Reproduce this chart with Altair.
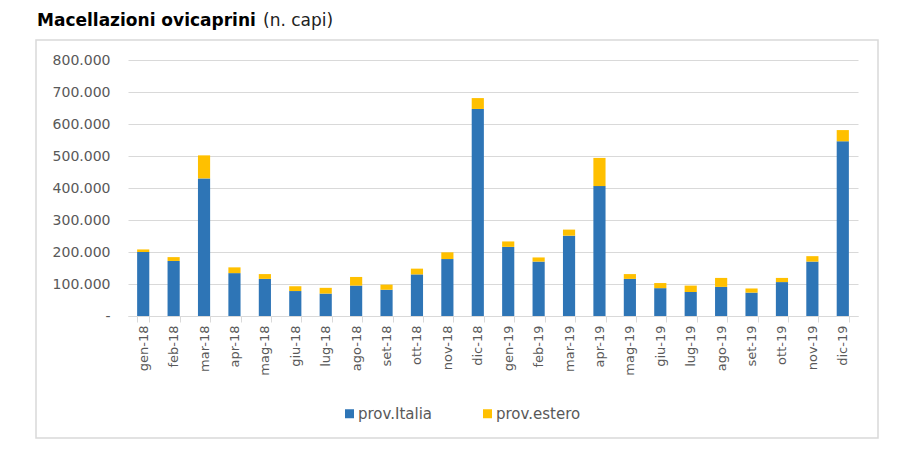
import altair as alt
import pandas as pd

months = ["gen-18", "feb-18", "mar-18", "apr-18", "mag-18", "giu-18", "lug-18", "ago-18",
          "set-18", "ott-18", "nov-18", "dic-18", "gen-19", "feb-19", "mar-19", "apr-19",
          "mag-19", "giu-19", "lug-19", "ago-19", "set-19", "ott-19", "nov-19", "dic-19"]
italia = [200000, 172000, 430000, 134000, 116000, 78000, 70000, 95000, 82000, 130000, 178000, 647000,
          216000, 170000, 251000, 406000, 116000, 87000, 75000, 91000, 73000, 106000, 170000, 546000]
estero = [8000, 12000, 72000, 18000, 15000, 15000, 18000, 27000, 16000, 18000, 21000, 34000,
          17000, 13000, 19000, 88000, 15000, 16000, 20000, 28000, 13000, 13000, 17000, 35000]
series = ["prov.Italia", "prov.estero"]
y_ticks = [0, 100000, 200000, 300000, 400000, 500000, 600000, 700000, 800000]

rows = []
for m, a, b in zip(months, italia, estero):
    rows.append({"mese": m, "serie": series[0], "valore": a, "ord": 0})
    rows.append({"mese": m, "serie": series[1], "valore": b, "ord": 1})
df = pd.DataFrame(rows)

FONT = "DejaVu Sans"
GRAY = "#595959"
LINE = "#d9d9d9"

bars = alt.Chart(df).mark_bar().encode(
    x=alt.X("mese:N", sort=months, title=None,
            scale=alt.Scale(paddingInner=0.6, paddingOuter=0.3),
            axis=alt.Axis(labelAngle=270, labelFontSize=13, labelColor=GRAY, labelFont=FONT,
                          tickBand="extent", tickSize=6, tickColor=LINE, domainColor=LINE,
                          labelPadding=3, grid=False)),
    y=alt.Y("valore:Q", title=None,
            scale=alt.Scale(domain=[0, 800000], nice=False),
            axis=alt.Axis(values=y_ticks, ticks=False, domain=False, gridColor=LINE,
                          labelFontSize=14, labelColor=GRAY, labelFont=FONT, labelPadding=18,
                          labelExpr="datum.value == 0 ? '-' : replace(format(datum.value, ','), ',', '.')")),
    color=alt.Color("serie:N", scale=alt.Scale(domain=series, range=["#2E75B6", "#FFC000"]),
                    legend=alt.Legend(title=None, orient="none", legendX=214, legendY=346,
                                      direction="horizontal", symbolType="square", symbolSize=81,
                                      labelFontSize=15, labelColor=GRAY, labelFont=FONT,
                                      columnPadding=47, labelOffset=1, padding=0)),
    order=alt.Order("ord:Q"),
)

box = alt.Chart(pd.DataFrame({"k": [1]})).mark_rect(fillOpacity=0, stroke=LINE, strokeWidth=1.5).encode(
    x=alt.value(-92), x2=alt.value(750), y=alt.value(-20), y2=alt.value(378)
)

title_df = pd.DataFrame({"t": ["Macellazioni ovicaprini"]})
sub_df = pd.DataFrame({"t": ["(n. capi)"]})
title_bold = alt.Chart(title_df).mark_text(align="left", baseline="alphabetic", fontSize=17,
                                           fontWeight="bold", font=FONT, color="black").encode(
    text="t:N", x=alt.value(-91), y=alt.value(-34))
title_reg = alt.Chart(sub_df).mark_text(align="left", baseline="alphabetic", fontSize=17,
                                        font=FONT, color="#222222").encode(
    text="t:N", x=alt.value(135), y=alt.value(-34))

chart = alt.layer(box, bars, title_bold, title_reg).properties(
    width=730, height=256,
    autosize=alt.AutoSizeParams(type="none"),
    padding={"left": 120, "top": 52, "right": 42, "bottom": 128},
).configure_view(stroke=None)

chart.save("out.html", embed_options={"renderer": "svg", "actions": False})
